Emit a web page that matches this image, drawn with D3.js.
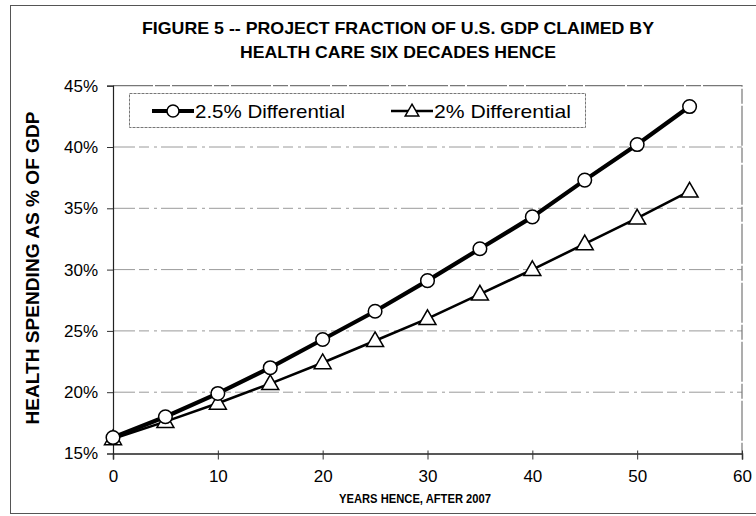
<!DOCTYPE html>
<html lang="en">
	<head>
		<meta charset="utf-8">
		<title>Figure 5</title>
		<script src="https://d3js.org/d3.v7.min.js"></script>
		<style>
			body { margin: 0; background: #fff; }
			text { font-family: "Liberation Sans", Arial, sans-serif; fill: #000; }
			.grid line { stroke: #9a9a9a; stroke-width: 1; stroke-dasharray: 22 4 10 5 3 4; }
		</style>
	</head>

	<body>
		<div id="vis"></div>
	</body>

	<script>
		// values
		var years = [0, 5, 10, 15, 20, 25, 30, 35, 40, 45, 50, 55];
		var diff25 = [16.3, 18.0, 19.9, 22.0, 24.3, 26.6, 29.1, 31.7, 34.3, 37.3, 40.2, 43.3];
		var diff20 = [16.2, 17.6, 19.1, 20.7, 22.4, 24.2, 26.0, 28.0, 30.0, 32.1, 34.2, 36.4];
		var xTicks = [0, 10, 20, 30, 40, 50, 60];
		var yTicks = [15, 20, 25, 30, 35, 40, 45];
		var seriesNames = ["2.5% Differential", "2% Differential"];
		var titleLines = ["FIGURE 5 -- PROJECT FRACTION OF U.S. GDP CLAIMED BY", "HEALTH CARE SIX DECADES HENCE"];

		var width = 756, height = 516;

		var svg = d3.select("#vis").append("svg")
			.attr("width", width)
			.attr("height", height);

		// outer frame of the scanned chart
		svg.append("rect")
			.attr("x", 10.5).attr("y", 5.5)
			.attr("width", 800).attr("height", 508)
			.attr("fill", "none")
			.attr("stroke", "#555")
			.attr("stroke-width", 1);

		var x = d3.scaleLinear().domain([0, 60]).range([113, 742]);
		var y = d3.scaleLinear().domain([15, 45]).range([453.5, 85.7]);

		// title (condensed, like the scan)
		svg.selectAll(".title")
			.data(titleLines)
			.enter().append("text")
			.attr("class", "title")
			.attr("x", 398)
			.attr("y", function(d, i) { return 34 + i * 24; })
			.attr("text-anchor", "middle")
			.attr("textLength", function(d, i) { return i == 0 ? 512 : 316; })
			.attr("lengthAdjust", "spacingAndGlyphs")
			.style("font-size", "16.5px")
			.style("font-weight", "bold")
			.text(function(d) { return d; });

		// gridlines
		svg.append("g")
			.attr("class", "grid")
			.selectAll("line")
			.data(yTicks.slice(1, -1))
			.enter().append("line")
			.attr("x1", x(0)).attr("x2", x(60))
			.attr("y1", function(d) { return y(d); })
			.attr("y2", function(d) { return y(d); });

		// plot box top/right
		svg.append("path")
			.attr("d", "M" + x(0) + "," + y(45) + "H" + x(60) + "V" + y(15))
			.attr("fill", "none")
			.attr("stroke", "#777")
			.attr("stroke-width", 1.2)
			.attr("stroke-dasharray", "40 2 15 2");

		var xAxis = d3.axisBottom(x).tickValues(xTicks).tickSize(6).tickPadding(10);
		var yAxis = d3.axisLeft(y).tickValues(yTicks).tickSize(6).tickPadding(9)
			.tickFormat(function(d) { return d + "%"; });

		var gx = svg.append("g")
			.attr("transform", "translate(0," + y(15) + ")")
			.call(xAxis);
		gx.select(".domain").attr("stroke", "#222").attr("stroke-width", 1.5);
		gx.selectAll(".tick line").attr("stroke", "#333").attr("y1", -3);
		gx.selectAll("text").style("font-size", "17px");

		var gy = svg.append("g")
			.attr("transform", "translate(" + x(0) + ",0)")
			.call(yAxis);
		gy.select(".domain").attr("stroke", "#222").attr("stroke-width", 1.2);
		gy.selectAll(".tick line").attr("stroke", "#333");
		gy.selectAll("text").style("font-size", "17px");

		// axis titles
		svg.append("text")
			.attr("transform", "translate(39,268) rotate(-90)")
			.attr("text-anchor", "middle")
			.attr("textLength", 313)
			.attr("lengthAdjust", "spacingAndGlyphs")
			.style("font-size", "18px")
			.style("font-weight", "bold")
			.text("HEALTH SPENDING AS % OF GDP");

		svg.append("text")
			.attr("x", 415)
			.attr("y", 503)
			.attr("text-anchor", "middle")
			.attr("textLength", 152)
			.attr("lengthAdjust", "spacingAndGlyphs")
			.style("font-size", "13px")
			.style("font-weight", "bold")
			.text("YEARS HENCE, AFTER 2007");

		// lines
		var data25 = years.map(function(d, i) { return {yr: d, v: diff25[i]}; });
		var data20 = years.map(function(d, i) { return {yr: d, v: diff20[i]}; });

		var line = d3.line()
			.x(function(d) { return x(d.yr); })
			.y(function(d) { return y(d.v); });

		var tri = d3.symbol().type(d3.symbolTriangle).size(125);

		svg.append("path")
			.attr("d", line(data20))
			.attr("fill", "none")
			.attr("stroke", "#000")
			.attr("stroke-width", 2.6);

		svg.append("path")
			.attr("d", line(data25))
			.attr("fill", "none")
			.attr("stroke", "#000")
			.attr("stroke-width", 4.2);

		svg.selectAll(".tri")
			.data(data20)
			.enter().append("path")
			.attr("class", "tri")
			.attr("d", tri)
			.attr("transform", function(d) { return "translate(" + x(d.yr) + "," + (y(d.v) + 1) + ")"; })
			.attr("fill", "#fff")
			.attr("stroke", "#000")
			.attr("stroke-width", 1.5);

		svg.selectAll(".circ")
			.data(data25)
			.enter().append("circle")
			.attr("class", "circ")
			.attr("cx", function(d) { return x(d.yr); })
			.attr("cy", function(d) { return y(d.v); })
			.attr("r", 6.8)
			.attr("fill", "#fff")
			.attr("stroke", "#000")
			.attr("stroke-width", 1.5);

		// legend
		var legend = svg.append("g");
		legend.append("rect")
			.attr("x", 129.5).attr("y", 93.5)
			.attr("width", 456).attr("height", 34)
			.attr("fill", "#fff")
			.attr("stroke", "#777")
			.attr("stroke-width", 1)
			.attr("stroke-dasharray", "3 1");

		var items = legend.selectAll(".item")
			.data(seriesNames)
			.enter().append("g")
			.attr("class", "item")
			.attr("transform", function(d, i) { return "translate(" + (i == 0 ? 152 : 391) + ",111)"; });

		items.append("line")
			.attr("x1", 0).attr("x2", 42)
			.attr("stroke", "#000")
			.attr("stroke-width", function(d, i) { return i == 0 ? 4.2 : 2.6; });

		items.filter(function(d, i) { return i == 0; })
			.append("circle")
			.attr("cx", 21).attr("r", 6)
			.attr("fill", "#fff").attr("stroke", "#000").attr("stroke-width", 1.5);

		items.filter(function(d, i) { return i == 1; })
			.append("path")
			.attr("d", d3.symbol().type(d3.symbolTriangle).size(80))
			.attr("transform", "translate(21,1)")
			.attr("fill", "#fff").attr("stroke", "#000").attr("stroke-width", 1.5);

		items.append("text")
			.attr("x", 43)
			.attr("y", 7)
			.attr("textLength", function(d, i) { return i == 0 ? 150 : 137; })
			.attr("lengthAdjust", "spacingAndGlyphs")
			.style("font-size", "19px")
			.text(function(d) { return d; });
	</script>
</html>
